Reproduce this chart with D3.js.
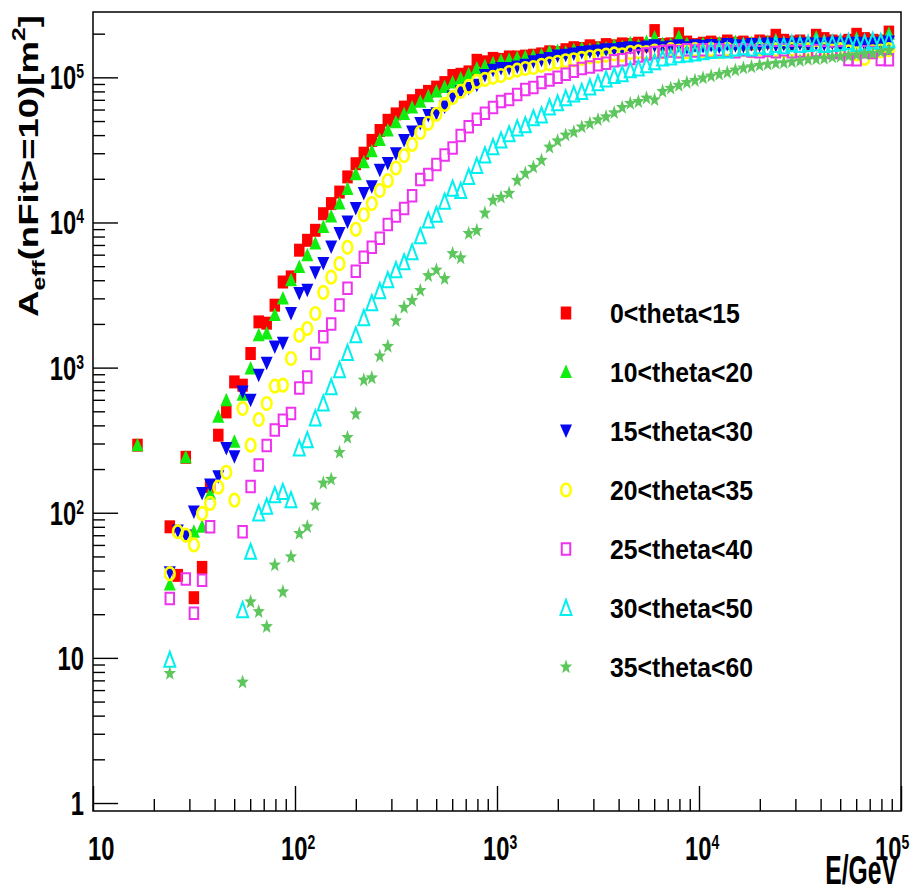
<!DOCTYPE html>
<html>
<head>
<meta charset="utf-8">
<title>Effective area vs energy</title>
<script src="https://d3js.org/d3.v7.min.js"></script>
<style>
  body { margin: 0; background: #fff; }
  svg { display: block; font-family: "Liberation Sans", Arial, Helvetica, sans-serif; }
</style>
</head>
<body>
<div id="chart"></div>
<script>
// bin centres in GeV (log binning, 25 bins per decade)
var energy = [
  16.6, 18.2, 20.0, 21.9, 24.0, 26.3, 28.8, 31.6, 34.7, 38.0, 41.7, 45.7, 50.1, 55.0, 60.3, 66.1, 72.4, 79.4, 87.1, 95.5,
  105, 115, 126, 138, 151, 166, 182, 200, 219, 240, 263, 288, 316, 347, 380, 417, 457, 501, 550, 603, 661, 724, 794, 871, 955,
  1047, 1148, 1259, 1380, 1514, 1660, 1820, 1995, 2188, 2399, 2630, 2884, 3162, 3467, 3802, 4169, 4571, 5012, 5495, 6026, 6607, 7244, 7943, 8710, 9550,
  10471, 11482, 12589, 13804, 15136, 16596, 18197, 19953, 21878, 23988, 26303, 28840, 31623, 34674, 38019, 41687, 45709, 50119, 54954, 60256, 66069, 72444, 79433, 87096
];

// effective area [m^2] per zenith band, same binning as energy (null = empty bin)
var aeff_0_15 = [
  292, null, null, null, 80, 37, 241, 26, 42, 152, 342, 495, 797, 757, 1250, 2065, 2023, 2690, 3890, 4215,
  6440, 7540, 8830, 11500, 13500, 16200, 20600, 25400, 30000, 36800, 43000, 50600, 56000, 62400, 69000, 75200, 80000, 85700, 92000, 103000, 105000, 109000, 131000, 128000, 135000,
  133000, 138000, 138000, 140000, 142000, 145000, 150000, 148000, 155000, 160000, 158000, 165000, 160000, 168000, 165000, 170000, 168000, 172000, 165000, 210000, 168000, 170000, 200000, 175000, 168000,
  172000, 175000, 170000, 178000, 172000, 175000, 170000, 178000, 175000, 195000, 180000, 175000, 178000, 172000, 195000, 185000, 178000, 175000, 180000, 198000, 185000, 180000, 178000, 205000
];
var aeff_10_20 = [
  292, null, null, null, 32, null, 241, 74, 80, 136, 458, 596, 308, 650, 986, 1670, 1720, 2300, 2990, 4000,
  4940, 5950, 7160, 9300, 11000, 13500, 17000, 21500, 26000, 31000, 37000, 43000, 49000, 56000, 62000, 68000, 74000, 80000, 86000, 92000, 98000, 105000, 115000, 120000, 125000,
  130000, 132000, 136000, 138000, 140000, 142000, 150000, 152000, 148000, 155000, 158000, 155000, 160000, 158000, 165000, 162000, 172000, 165000, 175000, 188000, 170000, 168000, 190000, 170000, 165000,
  170000, 168000, 172000, 170000, 175000, 168000, 172000, 170000, 175000, 180000, 172000, 170000, 175000, 172000, 188000, 178000, 175000, 172000, 178000, 185000, 178000, 175000, 180000, 200000
];
var aeff_15_30 = [
  null, null, null, null, 38.6, 75, 69, 101, 136, 155, 177, 277, 243, 680, 596, 887, 1070, 1390, 1470, 2360,
  3240, 3410, 4500, 5210, 6780, 8390, 10080, 12500, 15800, 17600, 22900, 25500, 29800, 36800, 42000, 48000, 54700, 56200, 62400, 73100, 79200, 83600, 88100, 103000, 112000,
  115000, 115000, 118000, 121000, 128000, 131000, 135000, 140000, 142000, 145000, 148000, 150000, 152000, 155000, 155000, 158000, 160000, 158000, 162000, 165000, 160000, 162000, 165000, 160000, 165000,
  163000, 166000, 162000, 168000, 165000, 163000, 168000, 165000, 170000, 166000, 168000, 165000, 170000, 167000, 170000, 168000, 172000, 168000, 170000, 172000, 168000, 170000, 172000, 175000
];
var aeff_20_35 = [
  null, null, null, null, 38, 74, 70, 60, 99, 116, 150, 190, 122, 523, 292, 439, 566, 745, 757, 1155,
  1670, 1860, 2360, 3300, 4200, 5200, 6750, 8980, 11300, 13500, 16600, 19400, 23700, 28900, 34500, 41700, 48200, 55600, 65100, 72800, 80100, 86800, 93800, 96800, 100000,
  103000, 108000, 112000, 115000, 117000, 121000, 124000, 127000, 130000, 132000, 135000, 138000, 140000, 142000, 145000, 143000, 148000, 150000, 148000, 152000, 150000, 155000, 152000, 150000, 155000,
  152000, 155000, 150000, 156000, 153000, 155000, 152000, 157000, 154000, 155000, 152000, 156000, 153000, 155000, 150000, 156000, 152000, 155000, 150000, 145000, 135000, 150000, 152000, 155000
];
var aeff_25_40 = [
  null, null, null, null, 25.7, null, 34.9, 20.3, 34.3, 80, null, null, null, 74, 152, 213, 290, 371, 434, 483,
  725, 863, 1250, 1630, 2000, 2700, 3520, 4610, 5760, 6750, 7780, 9690, 11100, 12500, 15300, 19800, 21400, 25100, 29200, 32600, 39800, 45700, 51400, 56500, 62100,
  68200, 70500, 76200, 82600, 85300, 92300, 96000, 100000, 105000, 110000, 115000, 118000, 122000, 125000, 130000, 132000, 135000, 140000, 145000, 148000, 150000, 152000, 150000, 155000, 152000,
  155000, 150000, 155000, 152000, 150000, 155000, 152000, 150000, 153000, 150000, 155000, 150000, 152000, 150000, 153000, 150000, 148000, 150000, 133000, 132000, 150000, 148000, 133000, 132000
];
var aeff_30_50 = [
  null, null, null, null, 9.7, null, null, null, null, null, null, null, null, 21.3, 53.8, 99, 110, 132, 139, 122,
  277, 316, 446, 566, 733, 960, 1260, 1670, 2190, 2780, 3360, 4000, 4690, 5320, 6230, 8030, 10300, 11300, 13900, 17100, 16500, 20600, 24500, 29000, 33000,
  36800, 40500, 44500, 46700, 52200, 54700, 62100, 66200, 71700, 76300, 79300, 85300, 91000, 96800, 102000, 105000, 112000, 115000, 121000, 127000, 135000, 137000, 142000, 144000, 146000,
  149000, 152000, 153000, 153000, 158000, 161000, 158000, 164000, 161000, 167000, 164000, 170000, 167000, 170000, 172000, 167000, 170000, 172000, 175000, 170000, 172000, 178000, 175000, 180000
];
var aeff_35_60 = [
  null, null, null, null, 7.8, null, null, null, null, null, null, null, null, 6.8, 24.3, 20.8, 16.4, 43.6, 28.5, 49.7,
  72, 80, 113, 160, 170, 260, 330, 480, 820, 850, 1200, 1400, 2100, 2600, 2900, 3400, 4300, 4700, 4100, 6100, 5700, 8400, 8800, 11600, 14200,
  14900, 15900, 19500, 21800, 24000, 26800, 33000, 36500, 40000, 42000, 45500, 48000, 51000, 53500, 57000, 62000, 66000, 68000, 72000, 70000, 80000, 84000, 88000, 92000, 95000,
  99000, 102000, 105000, 108000, 112000, 116000, 118000, 121000, 123000, 125000, 126000, 128000, 130000, 133000, 134000, 135000, 138000, 139000, 141000, 143000, 145000, 146000, 150000, 153000
];

var seriesLabels = ["0<theta<15", "10<theta<20", "15<theta<30", "20<theta<35", "25<theta<40", "30<theta<50", "35<theta<60"];
var xMajor = [10, 1e2, 1e3, 1e4, 1e5];
var xExp = ["", "2", "3", "4", "5"];
var yMajor = [1, 10, 1e2, 1e3, 1e4, 1e5];
var yExp = ["", "", "2", "3", "4", "5"];

var series = [
  { data: aeff_0_15,  color: "#ff0000", shape: "square",  filled: true },
  { data: aeff_10_20, color: "#10ee10", shape: "triup",   filled: true },
  { data: aeff_15_30, color: "#0808f0", shape: "tridown", filled: true },
  { data: aeff_20_35, color: "#ffff00", shape: "circle",  filled: false },
  { data: aeff_25_40, color: "#ee33ee", shape: "osquare", filled: false },
  { data: aeff_30_50, color: "#00f0f0", shape: "otri",    filled: false },
  { data: aeff_35_60, color: "#5dc75d", shape: "star",    filled: true }
];

var W = 915, H = 893;
var frame = { left: 93, right: 901, top: 12, bottom: 811 };

var svg = d3.select("#chart").append("svg").attr("width", W).attr("height", H);

var x = d3.scaleLog().domain([10, 1e5]).range([frame.left, frame.right]);
var y = d3.scaleLog().domain([0.881, 2.82e5]).range([frame.bottom, frame.top]);

// marker outlines (picture is a bit taller than wide, so shapes are too)
function markerPath(shape) {
  function rect(w, h) { return "M" + (-w / 2) + "," + (-h / 2) + "h" + w + "v" + h + "h" + (-w) + "Z"; }
  if (shape === "square") return rect(10.5, 13);
  if (shape === "osquare") return rect(8.5, 11.5);
  if (shape === "triup") return "M0,-7.5L6,6L-6,6Z";
  if (shape === "tridown") return "M0,7L6,-6.5L-6,-6.5Z";
  if (shape === "otri") return "M0,-8L5.5,7L-5.5,7Z";
  if (shape === "circle") return "M-4.8,0A4.8,6.3 0 1,0 4.8,0A4.8,6.3 0 1,0 -4.8,0Z";
  var pts = [];
  for (var i = 0; i < 10; i++) {
    var a = (-90 + 36 * i) * Math.PI / 180, r = i % 2 ? 2.7 : 6.5;
    pts.push([r * Math.cos(a), r * Math.sin(a) * 1.2]);
  }
  return "M" + pts.map(function (p) { return p[0].toFixed(2) + "," + p[1].toFixed(2); }).join("L") + "Z";
}

function styleMarker(sel, s) {
  sel.attr("d", markerPath(s.shape))
    .attr("fill", s.filled ? s.color : "none")
    .attr("stroke", s.filled ? "none" : s.color)
    .attr("stroke-width", s.shape === "circle" ? 2.6 : 2);
}

// ticks, pointing into the frame
function minorTicks(lo, hi) {
  var out = [];
  for (var d = lo; d < hi; d *= 10) for (var m = 2; m <= 9; m++) out.push(d * m);
  return out;
}
var yMinor = minorTicks(1, 1e6).filter(function (v) { return v < 2.82e5; });
var xMinor = minorTicks(10, 1e5);

function tickGroup(axis) {
  return function (g) {
    g.call(axis);
    g.select(".domain").remove();
    g.selectAll("line").attr("stroke", "#000").attr("stroke-width", 1.4);
    g.selectAll("text").remove();
  };
}
svg.append("g").attr("transform", "translate(" + frame.left + ",0)")
  .call(tickGroup(d3.axisLeft(y).tickValues(yMajor).tickSize(-25)));
svg.append("g").attr("transform", "translate(" + frame.left + ",0)")
  .call(tickGroup(d3.axisLeft(y).tickValues(yMinor).tickSize(-12)));
svg.append("g").attr("transform", "translate(0," + frame.bottom + ")")
  .call(tickGroup(d3.axisBottom(x).tickValues(xMajor).tickSize(-25)));
svg.append("g").attr("transform", "translate(0," + frame.bottom + ")")
  .call(tickGroup(d3.axisBottom(x).tickValues(xMinor).tickSize(-12)));

// frame
svg.append("rect")
  .attr("x", frame.left).attr("y", frame.top)
  .attr("width", frame.right - frame.left).attr("height", frame.bottom - frame.top)
  .attr("fill", "none").attr("stroke", "#000").attr("stroke-width", 1.5);

// tick labels: "10" with a raised exponent, condensed like the original
var lblSize = 34, supSize = 20, condense = 0.7;

yMajor.forEach(function (v, i) {
  var g = svg.append("g").attr("transform", "translate(84," + (y(v) + 12) + ") scale(" + condense + ",1)");
  var t = g.append("text").attr("text-anchor", "end").attr("font-size", lblSize)
    .attr("font-weight", "bold").attr("fill", "#000");
  t.append("tspan").text(v === 1 ? "1" : "10");
  if (yExp[i]) t.append("tspan").attr("font-size", supSize).attr("dy", -11).text(yExp[i]);
});

xMajor.forEach(function (v, i) {
  var shift = i === 0 ? 9 : (i === xMajor.length - 1 ? -12 : 0);
  var g = svg.append("g").attr("transform", "translate(" + (x(v) + shift - 14) + ",860) scale(" + condense + ",1)");
  var t = g.append("text").attr("font-size", lblSize).attr("font-weight", "bold").attr("fill", "#000");
  t.append("tspan").text("10");
  if (xExp[i]) t.append("tspan").attr("font-size", supSize).attr("dy", -11).text(xExp[i]);
});

// stretch a text group along its run so it spans a given length
function fitText(g, t, targetLen) {
  var w = t.node().getBBox().width;
  var tr = g.attr("transform");
  g.attr("transform", tr + " scale(" + (targetLen / w) + ",1)");
}

// axis titles
var xt = svg.append("g").attr("transform", "translate(898,884)");
var xtText = xt.append("text").attr("text-anchor", "end").attr("font-size", 40)
  .attr("font-weight", "bold").attr("fill", "#000").text("E/GeV");
fitText(xt, xtText, 73);

var yt = svg.append("g").attr("transform", "translate(38,317) rotate(-90)");
var ytText = yt.append("text").attr("font-size", 28).attr("font-weight", "bold").attr("fill", "#000");
ytText.append("tspan").text("A");
ytText.append("tspan").attr("font-size", 19).attr("dy", 7).text("eff");
ytText.append("tspan").attr("dy", -7).text("(nFit>=10)[m");
ytText.append("tspan").attr("font-size", 19).attr("dy", -13).text("2");
ytText.append("tspan").attr("dy", 13).text("]");
fitText(yt, ytText, 302);

// data points, drawn series by series in legend order
var plot = svg.append("g");
series.forEach(function (s) {
  var pts = energy.map(function (e, i) { return [e, s.data[i]]; })
    .filter(function (p) { return p[1] != null; });
  plot.append("g").selectAll("path").data(pts).enter().append("path")
    .attr("transform", function (p) { return "translate(" + x(p[0]).toFixed(1) + "," + y(p[1]).toFixed(1) + ")"; })
    .call(styleMarker, s);
});

// legend
var legend = svg.append("g");
series.forEach(function (s, i) {
  var cy = 313 + i * 59;
  legend.append("path").attr("transform", "translate(566," + cy + ")").call(styleMarker, s);
  var g = legend.append("g").attr("transform", "translate(610," + (cy + 10) + ")");
  var t = g.append("text").attr("font-size", 28).attr("font-weight", "bold").attr("fill", "#000").text(seriesLabels[i]);
  fitText(g, t, seriesLabels[i].length * 13);
});
</script>
</body>
</html>
